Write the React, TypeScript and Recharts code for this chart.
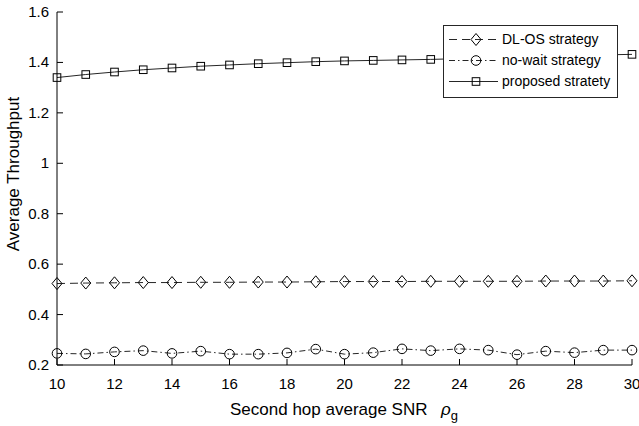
import React from 'react';
import { LineChart, Line, XAxis, YAxis, Legend } from 'recharts';

const xValues = [10, 11, 12, 13, 14, 15, 16, 17, 18, 19, 20, 21, 22, 23, 24, 25, 26, 27, 28, 29, 30];
const dlosValues = [0.523, 0.525, 0.526, 0.527, 0.527, 0.528, 0.528, 0.529, 0.529, 0.530, 0.531, 0.531, 0.531, 0.532, 0.532, 0.532, 0.532, 0.533, 0.533, 0.533, 0.534];
const noWaitValues = [0.246, 0.244, 0.252, 0.257, 0.246, 0.255, 0.243, 0.243, 0.248, 0.263, 0.243, 0.249, 0.264, 0.257, 0.264, 0.259, 0.241, 0.255, 0.249, 0.259, 0.259];
const proposedValues = [1.340, 1.352, 1.362, 1.371, 1.378, 1.385, 1.390, 1.395, 1.399, 1.403, 1.406, 1.408, 1.410, 1.412, 1.415, 1.418, 1.421, 1.424, 1.427, 1.430, 1.432];
const xTicks = [10, 12, 14, 16, 18, 20, 22, 24, 26, 28, 30];
const yTicks = [0.2, 0.4, 0.6, 0.8, 1, 1.2, 1.4, 1.6];
const seriesNames = ['DL-OS strategy', 'no-wait strategy', 'proposed stratety'];

const data = xValues.map((x, i) => ({
  x,
  dlos: dlosValues[i],
  noWait: noWaitValues[i],
  proposed: proposedValues[i],
}));

const FONT = '"Liberation Sans", Arial, sans-serif';
const INK = '#000';
const LINE = '#262626';

const diamondPath = (cx: number, cy: number) =>
  `M${cx},${cy - 6} L${cx + 5},${cy} L${cx},${cy + 6} L${cx - 5},${cy} Z`;

const DiamondDot = (p: any) => (
  <path key={`d${p.index}`} d={diamondPath(p.cx, p.cy)} fill="none" stroke={INK} strokeWidth={1} />
);
const CircleDot = (p: any) => (
  <circle key={`c${p.index}`} cx={p.cx} cy={p.cy} r={4.8} fill="none" stroke={INK} strokeWidth={1} />
);
const SquareDot = (p: any) => (
  <rect key={`s${p.index}`} x={p.cx - 3.8} y={p.cy - 3.8} width={7.6} height={7.6} fill="none" stroke={INK} strokeWidth={1} />
);

const BottomTick = (p: any) => (
  <g>
    <line x1={p.x} x2={p.x} y1={p.y} y2={p.y - 6} stroke={INK} />
    <text x={p.x} y={p.y + 24} textAnchor="middle" fontSize={15} fontFamily={FONT} fill={INK}>
      {String(p.payload.value)}
    </text>
  </g>
);
const TopTick = (p: any) => (
  <line x1={p.x} x2={p.x} y1={p.y} y2={p.y + 6} stroke={INK} />
);
const LeftTick = (p: any) => (
  <g>
    <line x1={p.x} x2={p.x + 6} y1={p.y} y2={p.y} stroke={INK} />
    <text x={p.x - 8} y={p.y + 5} textAnchor="end" fontSize={15} fontFamily={FONT} fill={INK}>
      {String(p.payload.value)}
    </text>
  </g>
);
const RightTick = (p: any) => (
  <line x1={p.x} x2={p.x - 6} y1={p.y} y2={p.y} stroke={INK} />
);

const XLabel = () => (
  <text x={230} y={415} fontSize={17} fontFamily={FONT} fill={INK}>
    <tspan>Second hop average SNR</tspan>
    <tspan x={441} fontStyle="italic">ρ</tspan>
    <tspan dy={5} fontSize={13}>g</tspan>
  </text>
);
const YLabel = () => (
  <text x={19} y={174} transform="rotate(-90 19 174)" textAnchor="middle" fontSize={17} fontFamily={FONT} fill={INK}>
    Average Throughput
  </text>
);

const LegendSample = ({ kind }: { kind: number }) => {
  const dash = kind === 0 ? '8 5' : kind === 1 ? '6 3 1.5 3' : undefined;
  return (
    <svg width={56} height={21} style={{ display: 'block' }}>
      <line x1={5} x2={54} y1={10.5} y2={10.5} stroke={LINE} strokeDasharray={dash} />
      {kind === 0 && <path d={diamondPath(32, 10.5)} fill="none" stroke={INK} />}
      {kind === 1 && <circle cx={32} cy={10.5} r={4.8} fill="none" stroke={INK} />}
      {kind === 2 && <rect x={28.2} y={6.7} width={7.6} height={7.6} fill="none" stroke={INK} />}
    </svg>
  );
};

const renderLegend = () => (
  <div
    style={{
      width: 175,
      height: 73,
      boxSizing: 'border-box',
      border: '1px solid #262626',
      background: '#fff',
      paddingTop: 3,
      fontFamily: FONT,
      fontSize: 14,
      color: INK,
    }}
  >
    {seriesNames.map((name, i) => (
      <div key={name} style={{ display: 'flex', alignItems: 'center', height: 21 }}>
        <LegendSample kind={i} />
        <span style={{ marginLeft: 2, lineHeight: '21px', whiteSpace: 'nowrap' }}>{name}</span>
      </div>
    ))}
  </div>
);

export default function App() {
  return (
    <div style={{ position: 'absolute', left: 0, top: 0, width: 639, height: 426, background: '#fff' }}>
      <LineChart width={639} height={426} data={data} margin={{ top: 12, right: 7, bottom: 0, left: 0 }}>
        <XAxis
          xAxisId="b"
          dataKey="x"
          type="number"
          domain={[10, 30]}
          ticks={xTicks}
          height={61}
          tickSize={0}
          tickMargin={0}
          tickLine={false}
          axisLine={{ stroke: INK }}
          tick={<BottomTick />}
          interval={0}
          label={<XLabel />}
        />
        <XAxis
          xAxisId="t"
          orientation="top"
          dataKey="x"
          type="number"
          domain={[10, 30]}
          ticks={xTicks}
          height={0}
          tickSize={0}
          tickMargin={0}
          tickLine={false}
          axisLine={{ stroke: INK }}
          tick={<TopTick />}
          interval={0}
        />
        <YAxis
          yAxisId="l"
          type="number"
          domain={[0.2, 1.6]}
          ticks={yTicks}
          width={57}
          tickSize={0}
          tickMargin={0}
          tickLine={false}
          axisLine={{ stroke: INK }}
          tick={<LeftTick />}
          interval={0}
          label={<YLabel />}
        />
        <YAxis
          yAxisId="r"
          orientation="right"
          type="number"
          domain={[0.2, 1.6]}
          ticks={yTicks}
          width={0}
          tickSize={0}
          tickMargin={0}
          tickLine={false}
          axisLine={{ stroke: INK }}
          tick={<RightTick />}
          interval={0}
        />
        <Legend
          layout="vertical"
          align="center"
          verticalAlign="middle"
          content={renderLegend}
          wrapperStyle={{ position: 'absolute', left: 443, top: 25, width: 175, height: 73 }}
        />
        <Line xAxisId="b" yAxisId="l" dataKey="dlos" name={seriesNames[0]} stroke={LINE} strokeWidth={1} strokeDasharray="8 5" dot={DiamondDot} activeDot={false} isAnimationActive={false} />
        <Line xAxisId="b" yAxisId="l" dataKey="noWait" name={seriesNames[1]} stroke={LINE} strokeWidth={1} strokeDasharray="6 3 1.5 3" dot={CircleDot} activeDot={false} isAnimationActive={false} />
        <Line xAxisId="b" yAxisId="l" dataKey="proposed" name={seriesNames[2]} stroke={LINE} strokeWidth={1} dot={SquareDot} activeDot={false} isAnimationActive={false} />
      </LineChart>
    </div>
  );
}
